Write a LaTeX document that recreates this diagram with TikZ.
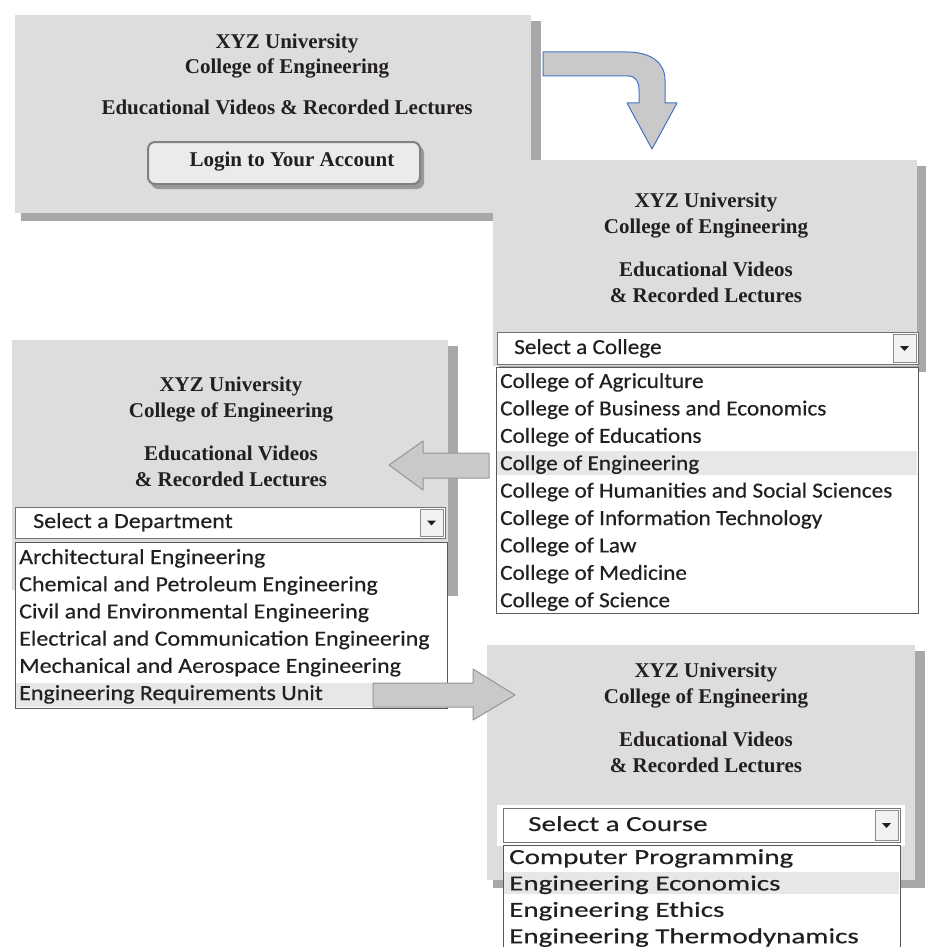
\documentclass[tikz,border=0pt]{standalone}
\usepackage{fontspec}
\setmainfont{Liberation Serif}
\newfontfamily\collegefont[FakeStretch=1.08,FakeBold=0.4]{Carlito}
\newfontfamily\deptfont[FakeStretch=1.115,FakeBold=0.4]{Carlito}
\newfontfamily\coursefont[FakeStretch=1.35,FakeBold=0.5]{Carlito}
\definecolor{panel}{RGB}{221,221,223}
\definecolor{panelshadow}{RGB}{168,168,170}
\definecolor{hilite}{RGB}{231,231,231}
\definecolor{arrowfill}{RGB}{201,201,201}
\definecolor{arrowedge}{RGB}{150,150,150}
\definecolor{bluedge}{RGB}{68,114,196}
\definecolor{ink}{RGB}{35,31,32}
\tikzset{
  title/.style={font=\fontsize{21}{24}\selectfont\bfseries, text=ink, inner sep=0pt,
    text height=14pt, text depth=4pt},
  item/.style={text=ink, anchor=west, inner sep=0pt, text height=14pt, text depth=4pt},
  colitem/.style={item, font=\collegefont\fontsize{21.5}{24}\selectfont},
  depitem/.style={item, font=\deptfont\fontsize{21.5}{24}\selectfont},
  crsitem/.style={item, font=\coursefont\fontsize{21.5}{24}\selectfont},
  listbox/.style={fill=white, draw=black!65, line width=0.8pt},
  dropbtn/.style={fill=black!5, draw=black!45, line width=0.8pt},
  blockarrow/.style={fill=arrowfill, draw=arrowedge, line width=1pt, line join=round}
}
\newcommand{\panelhead}[3]{%
  \node[title] (#1-a) at (#2,#3) {XYZ University};
  \node[title] (#1-b) at (#2,#3+26) {College of Engineering};
  \node[title] (#1-c) at (#2,#3+69) {Educational Videos};
  \node[title] (#1-d) at (#2,#3+95) {\& Recorded Lectures};
}
\newcommand{\dropdown}[4]{% x1,y1,x2,y2
  \draw[fill=white, draw=black!55, line width=0.8pt] (#1,#2) rectangle (#3,#4);
  \draw[dropbtn] (#3-25,#2+2) rectangle (#3-2,#4-2);
  \fill[ink] (#3-18,{(#2+#4)/2-2}) -- (#3-9,{(#2+#4)/2-2}) -- (#3-13.5,{(#2+#4)/2+3}) -- cycle;
}
\begin{document}
\begin{tikzpicture}[x=1pt,y=-1pt]
\useasboundingbox (0,0) rectangle (928,947);

% login panel
\fill[panelshadow] (21,21) rectangle (541,221);
\fill[panel] (15,15) rectangle (531,213);
\node[title] (p1-a) at (287,44) {XYZ University};
\node[title] (p1-b) at (287,69) {College of Engineering};
\node[title] (p1-c) at (287,110) {Educational Videos \& Recorded Lectures};
\fill[black!40, rounded corners=7pt] (151,146) rectangle (424,189);
\draw[fill=black!8, draw=black!50, line width=2pt, rounded corners=7pt] (148,142) rectangle (420,184);
\node[title] (login) at (292,161) {Login to Your Account};

% college panel
\fill[panelshadow] (499,166) rectangle (926,372);
\fill[panel] (493,160) rectangle (917,366);
\panelhead{p2}{706}{202}
\dropdown{497}{332}{918}{364}
\node[colitem] (sel2) at (514,349) {Select a College};
\draw[listbox] (496,367) rectangle (918,613);
\fill[hilite] (497,451) rectangle (917,475);
\foreach \t [count=\i] in {College of Agriculture, College of Business and Economics,
  College of Educations, Collge of Engineering, College of Humanities and Social Sciences,
  College of Information Technology, College of Law, College of Medicine, College of Science}
  \node[colitem] (col\i) at (500,{383+27.4*(\i-1)}) {\t};

% department panel
\fill[panelshadow] (18,346) rectangle (458,596);
\fill[panel] (12,340) rectangle (448,590);
\panelhead{p3}{231}{386}
\dropdown{15}{507}{445}{538}
\node[depitem] (sel3) at (33,523) {Select a Department};
\draw[listbox] (15,542) rectangle (447,708);
\fill[hilite] (16,683) rectangle (446,707);
\foreach \t [count=\i] in {Architectural Engineering, Chemical and Petroleum Engineering,
  Civil and Environmental Engineering, Electrical and Communication Engineering,
  Mechanical and Aerospace Engineering, Engineering Requirements Unit}
  \node[depitem] (dep\i) at (19,{559+27.2*(\i-1)}) {\t};

% course panel
\fill[panelshadow] (493,651) rectangle (925,888);
\fill[panel] (487,645) rectangle (915,880);
\panelhead{p4}{706}{672}
\fill[white] (497,805) rectangle (905,846);
\dropdown{503}{808}{900}{842}
\node[crsitem] (sel4) at (528,826) {Select a Course};
\draw[listbox] (503,845) rectangle (900,960);
\fill[hilite] (504,872) rectangle (899,894);
\foreach \t [count=\i] in {Computer Programming, Engineering Economics,
  Engineering Ethics, Engineering Thermodynamics}
  \node[crsitem] (crs\i) at (509,{859+26.4*(\i-1)}) {\t};

% arrows
\draw[fill=arrowfill, draw=bluedge, line width=1pt, line join=round]
  (543,52) -- (627,52) .. controls (650,52) and (665,62) .. (665,80) -- (665,103)
  -- (677,103) -- (652,149) -- (627,103) -- (639,103) -- (639,90)
  .. controls (639,82) and (636,76) .. (628,76) -- (543,76) -- cycle;
\draw[blockarrow] (489,453) -- (423,453) -- (423,441) -- (389,465) -- (423,490)
  -- (423,478) -- (489,478) -- cycle;
\draw[blockarrow] (373,683) -- (473,683) -- (473,669) -- (515,695) -- (473,720)
  -- (473,707) -- (373,707) -- cycle;
\end{tikzpicture}
\end{document}
